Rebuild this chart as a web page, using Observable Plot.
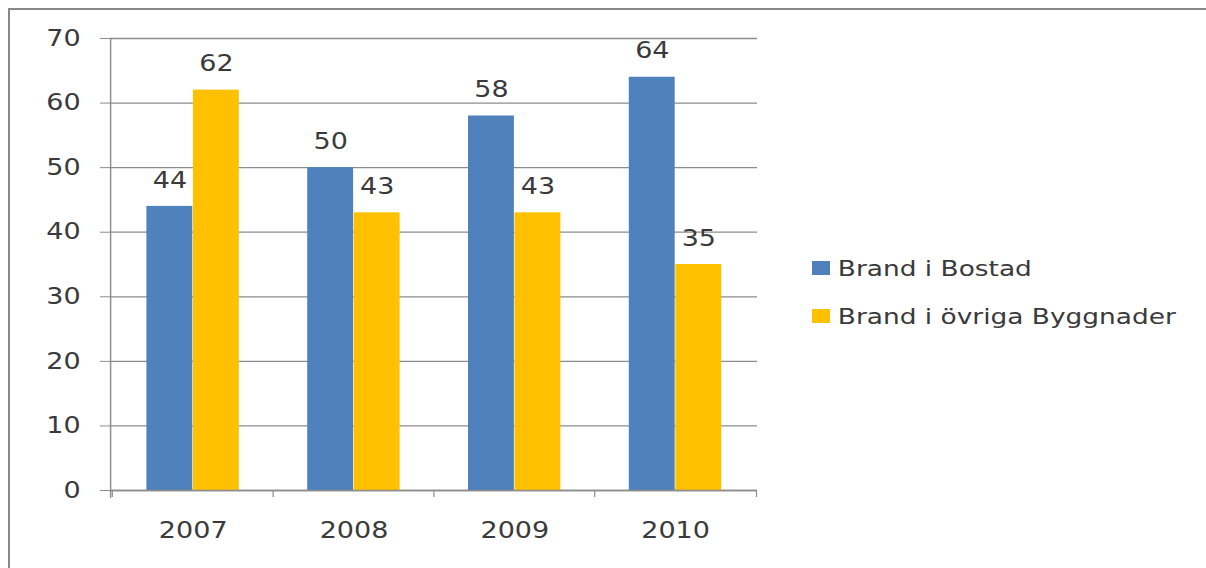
<!DOCTYPE html>
<html>
<head>
<meta charset="utf-8">
<script src="https://cdn.jsdelivr.net/npm/d3@7"></script>
<script src="https://cdn.jsdelivr.net/npm/@observablehq/plot@0.6"></script>
<style>
  html, body { margin: 0; padding: 0; background: #fff; overflow: hidden; width: 1206px; height: 568px; }
  #frame { position: absolute; left: 8px; top: 8px; width: 1400px; height: 800px; border: 2px solid #888; box-sizing: border-box; }
  #chart { position: absolute; left: 0; top: 0; }
  #chart svg { transform-origin: 0 0; }
  .legend { position: absolute; left: 812px; font-family: "DejaVu Sans", sans-serif; font-size: 22px; color: #3a3a3a; transform-origin: 0 0; white-space: nowrap; }
  .legend div { position: relative; height: 48px; display: flex; align-items: center; }
  .legend span.sw { display: inline-block; width: 15px; height: 14px; margin-right: 6.5px; }
</style>
</head>
<body>
<div id="frame"></div>
<div id="chart"></div>
<div class="legend" id="legend"></div>
<script>
const years = ["2007", "2008", "2009", "2010"];
const seriesNames = ["Brand i Bostad", "Brand i övriga Byggnader"];
const bostad = [44, 50, 58, 64];
const ovriga = [62, 43, 43, 35];
const colors = ["#4F81BD", "#FFC000"];
const yTicks = [0, 10, 20, 30, 40, 50, 60, 70];

// horizontal stretch of the rendered chart (the reference glyphs are widened)
const sx = 1.2;
const W = 1206 / sx, H = 568;
const mL = 110 / sx, mR = 449 / sx, mT = 38, mB = 78;
const step = (W - mL - mR) / years.length;
const pInner = 0.425;
const bandW = step * (1 - pInner);
const half = bandW / 2;

const rows1 = years.map((y, i) => ({year: y, value: bostad[i]}));
const rows2 = years.map((y, i) => ({year: y, value: ovriga[i]}));

const font = "DejaVu Sans, sans-serif";
const fs = 22.5;
const textCol = "#3a3a3a";
const lineCol = "#8c8c8c";

const plot = Plot.plot({
  width: W,
  height: H,
  marginLeft: mL,
  marginRight: mR,
  marginTop: mT,
  marginBottom: mB,
  style: {fontFamily: font, fontSize: fs + "px", color: textCol, background: "transparent"},
  x: {domain: years, paddingInner: pInner, paddingOuter: pInner / 2, label: null},
  y: {domain: [0, 70], label: null},
  marks: [
    Plot.gridY(yTicks, {stroke: lineCol, strokeOpacity: 1, strokeWidth: 1.3}),
    Plot.barY(rows1, {x: "year", y: "value", fill: colors[0], insetRight: half}),
    Plot.barY(rows2, {x: "year", y: "value", fill: colors[1], insetLeft: half}),
    Plot.text(rows1, {x: "year", y: "value", text: d => String(d.value), dx: -half / 2, dy: -26, fill: textCol, fontSize: fs}),
    Plot.text(rows2, {x: "year", y: "value", text: d => String(d.value), dx: half / 2, dy: -26, fill: textCol, fontSize: fs}),
    Plot.axisY({ticks: yTicks, tickSize: 10 / sx, tickPadding: 20 / sx, fontSize: fs, stroke: lineCol, strokeOpacity: 1, tickFormat: d => String(d), label: null}),
    Plot.axisX({tickSize: 7, tickPadding: 0, dx: -step / 2, text: null, stroke: lineCol, strokeOpacity: 1, label: null}),
    Plot.axisX({ticks: [years[years.length - 1]], tickSize: 7, dx: step / 2, text: null, stroke: lineCol, strokeOpacity: 1, label: null}),
    Plot.axisX({tickSize: 0, tickPadding: 32, fontSize: fs, label: null}),
    Plot.ruleY([0], {stroke: lineCol, strokeWidth: 1.3}),
    Plot.frame({anchor: "left", stroke: lineCol, strokeWidth: 1.2, insetBottom: -7})
  ]
});
plot.style.transform = `scaleX(${sx})`;
document.getElementById("chart").appendChild(plot);

const legend = document.getElementById("legend");
legend.style.top = "244px";
legend.style.transform = `scaleX(${sx})`;
seriesNames.forEach((name, i) => {
  const row = document.createElement("div");
  const sw = document.createElement("span");
  sw.className = "sw";
  sw.style.background = colors[i];
  row.appendChild(sw);
  row.appendChild(document.createTextNode(name));
  legend.appendChild(row);
});
</script>
</body>
</html>
